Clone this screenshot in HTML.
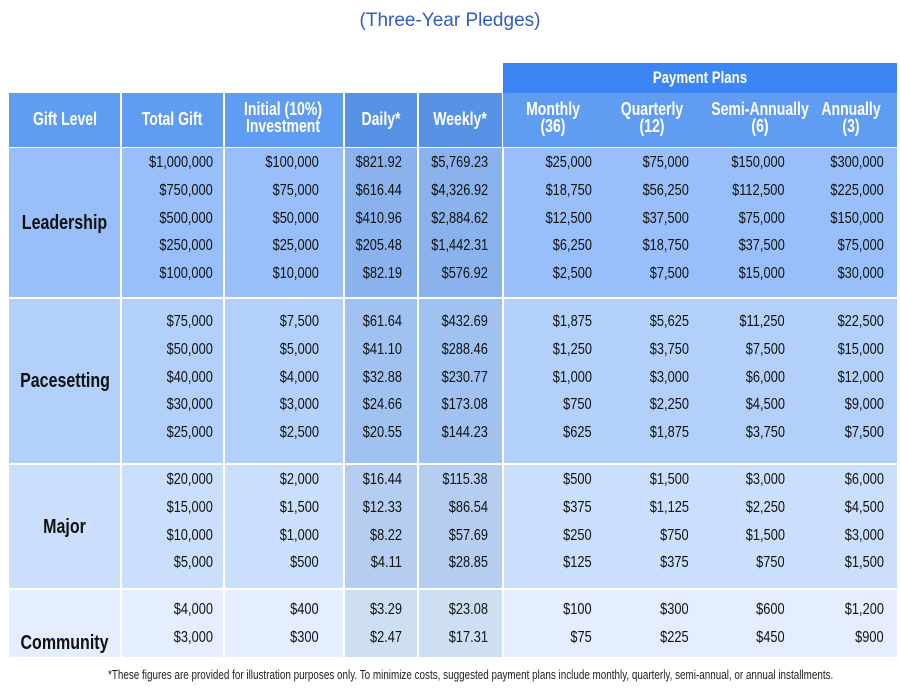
<!DOCTYPE html>
<html><head><meta charset="utf-8"><style>
body{margin:0;width:900px;height:696px;background:#fff;position:relative;overflow:hidden;font-family:"Liberation Sans Narrow","Liberation Sans",sans-serif;}
.a{position:absolute;box-sizing:border-box}
.t{position:absolute;white-space:nowrap;font-size:15px;color:#111;line-height:18px}
.v{transform:scaleX(0.8);transform-origin:right center}
.h{position:absolute;color:#fff;font-weight:bold;font-size:18px;line-height:17px;text-align:center;white-space:nowrap;transform:scaleX(0.78);transform-origin:center center}
</style></head><body>
<div class="t" style="left:0;width:900px;top:10px;text-align:center;color:#2f5cc4;font-family:'Liberation Sans',sans-serif;font-size:19px;line-height:22px">(Three-Year Pledges)</div>
<div id="tbl"></div>
<div class="t" style="left:0;width:900px;top:666px;text-align:center;font-size:13px;color:#222;transform:scaleX(0.76);transform-origin:center center">*These figures are provided for illustration purposes only. To minimize costs, suggested payment plans include monthly, quarterly, semi-annual, or annual installments.</div>
<script>
const headers=["Gift Level","Total Gift","Initial (10%)<br>Investment","Daily*","Weekly*","Monthly<br>(36)","Quarterly<br>(12)","Semi-Annually<br>(6)","Annually<br>(3)"];
const levels=["Leadership","Pacesetting","Major","Community"];
const totals=[["$1,000,000","$750,000","$500,000","$250,000","$100,000"],["$75,000","$50,000","$40,000","$30,000","$25,000"],["$20,000","$15,000","$10,000","$5,000"],["$4,000","$3,000"]];
const initial=[["$100,000","$75,000","$50,000","$25,000","$10,000"],["$7,500","$5,000","$4,000","$3,000","$2,500"],["$2,000","$1,500","$1,000","$500"],["$400","$300"]];
const daily=[["$821.92","$616.44","$410.96","$205.48","$82.19"],["$61.64","$41.10","$32.88","$24.66","$20.55"],["$16.44","$12.33","$8.22","$4.11"],["$3.29","$2.47"]];
const weekly=[["$5,769.23","$4,326.92","$2,884.62","$1,442.31","$576.92"],["$432.69","$288.46","$230.77","$173.08","$144.23"],["$115.38","$86.54","$57.69","$28.85"],["$23.08","$17.31"]];
const monthly=[["$25,000","$18,750","$12,500","$6,250","$2,500"],["$1,875","$1,250","$1,000","$750","$625"],["$500","$375","$250","$125"],["$100","$75"]];
const quarterly=[["$75,000","$56,250","$37,500","$18,750","$7,500"],["$5,625","$3,750","$3,000","$2,250","$1,875"],["$1,500","$1,125","$750","$375"],["$300","$225"]];
const semi=[["$150,000","$112,500","$75,000","$37,500","$15,000"],["$11,250","$7,500","$6,000","$4,500","$3,750"],["$3,000","$2,250","$1,500","$750"],["$600","$450"]];
const annual=[["$300,000","$225,000","$150,000","$75,000","$30,000"],["$22,500","$15,000","$12,000","$9,000","$7,500"],["$6,000","$4,500","$3,000","$1,500"],["$1,200","$900"]];

const cols=[[9,120],[121,223],[224,343],[344,417],[418,502],[503,603],[603,703],[703,810],[810,897]];
const headCx=[65,172,283,381,460,553,652,760,851];
const rightEdge=[0,213,319,402,488,592,689,785,884];
const secY=[[148,297],[299,463],[465,588],[590,657]];
const firstRow=[163,322,480,610];
const secBg=["#98bff9","#b2d0fa","#cadffc","#e4eefe"];
const secDark=["#8ab2ec","#a0c2f0","#b5cdf0","#cfdff3"];
const root=document.body;
function box(x,y,w,h,bg){const d=document.createElement('div');d.className='a';d.style.cssText=`left:${x}px;top:${y}px;width:${w}px;height:${h}px;background:${bg}`;root.appendChild(d);return d;}
const pp=box(503,63,394,30,"#3b86f3");


pp.innerHTML='<div class="h" style="width:394px;top:6px;font-size:17px">Payment Plans</div>';
const hb=box(503,93,394,54,"#619cf3");


headers.forEach((t,i)=>{
  const c=cols[i];
  if(i<5){
    const x=c[0]+(i>0?1:0);
    const d=box(x,93,c[1]-x,54,(i==3||i==4)?"#5892e7":"#619cf3");
    
    
  }
  const multi=t.includes('<br>');
  const l=document.createElement('div');
  l.className='h';
  
  
  l.style.left=(headCx[i]-80)+'px';
  l.style.width='160px';
  l.style.top=(multi?101:111)+'px';
  l.innerHTML=t;
  root.appendChild(l);
});
const series=[totals,initial,daily,weekly,monthly,quarterly,semi,annual];
levels.forEach((lv,s)=>{
  const [y0,y1]=secY[s];
  for(let i=0;i<6;i++){
    const c=cols[i];
    const x=c[0]+(i>0?1:0);
    const w=(i==5?897:c[1])-x;
    const d=box(x,y0,w,y1-y0,(i==3||i==4)?secDark[s]:secBg[s]);
    
    
  }
  const lab=document.createElement('div');
  lab.className='t';
  
  
  const ly=s==3?633:(y0+y1)/2-10;
  lab.style.cssText=`left:9px;width:111px;top:${ly}px;text-align:center;font-weight:bold;font-size:20px;line-height:20px;transform:scaleX(0.8);transform-origin:center center`;
  lab.textContent=lv;
  root.appendChild(lab);
  series.forEach((arr,k)=>{
    arr[s].forEach((v,r)=>{
      const e=document.createElement('div');
      e.className='t v';
      
      
      e.style.cssText=`right:${900-rightEdge[k+1]}px;top:${firstRow[s]+r*27.8-9}px;font-size:16px`;
      e.textContent=v;
      root.appendChild(e);
    });
  });
});
</script>
</body></html>
